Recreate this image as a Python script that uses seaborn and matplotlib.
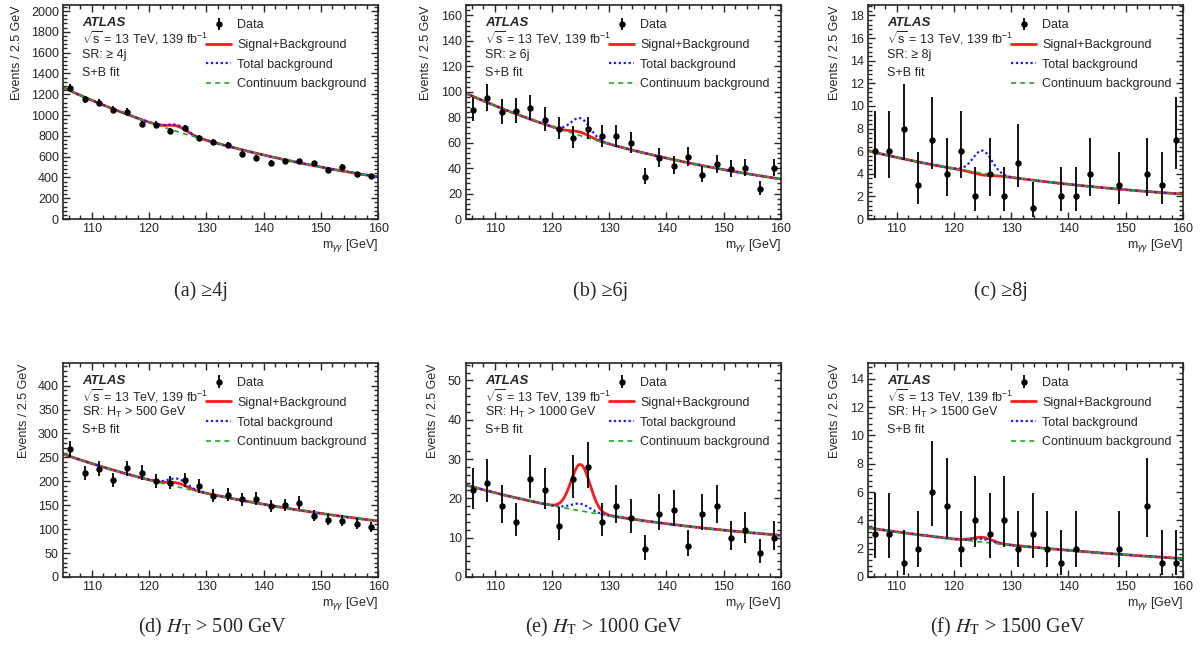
import math
import numpy as np
import pandas as pd
import matplotlib
matplotlib.use("Agg")
import matplotlib.pyplot as plt
from matplotlib.ticker import MultipleLocator, AutoMinorLocator
import seaborn as sns

# ==========================================
# DATA
# ==========================================
mass_bins = [106.25, 108.75, 111.25, 113.75, 116.25, 118.75, 121.25, 123.75,
             126.25, 128.75, 131.25, 133.75, 136.25, 138.75, 141.25, 143.75,
             146.25, 148.75, 151.25, 153.75, 156.25, 158.75]

nan = np.nan
counts_4j = [1264, 1152, 1117, 1053, 1034, 912, 909, 845, 877, 781, 742,
             717, 624, 589, 544, 557, 554, 538, 474, 502, 432, 413]
counts_6j = [86, 95, 84, 85, 87, 78, 71, 64, 71, 65, 65,
             60, 33, 48, 42, 49, 35, 43, 39, 40, 24, 40]
counts_8j = [6, 6, 8, 3, 7, 4, 6, 2, 4, 2, 5,
             1, nan, 2, 2, 4, nan, 3, nan, 4, 3, 7]
counts_ht500 = [267, 217, 226, 203, 227, 218, 201, 197, 202, 190, 169,
                172, 162, 164, 148, 150, 155, 128, 120, 118, 111, 104]
counts_ht1000 = [22, 24, 18, 14, 25, 22, 13, 25, 28, 14, 18,
                 15, 7, 16, 17, 8, 16, 18, 10, 12, 6, 10]
counts_ht1500 = [3, 3, 1, 2, 6, 5, 2, 4, 3, 4, 2,
                 3, 2, 1, 2, nan, nan, 2, nan, 5, 1, 1]

# continuum fit read at m = 105, 130, 160 GeV
cont_nodes = [105, 130, 160]
cont_4j = [1265, 758, 406]
cont_6j = [98.9, 59.0, 31.5]
cont_8j = [6.05, 3.69, 2.21]
cont_ht500 = [257, 175, 117]
cont_ht1000 = [23.4, 15.6, 10.6]
cont_ht1500 = [3.47, 2.25, 1.30]

# heights at 125 GeV of the SM Higgs (total bkg - continuum) and fitted signal
higgs_peak = [63, 13.8, 2.0, 17, 1.8, 0.22]
signal_peak = [-10, -11, -2.15, -9, 10, 0.12]

sr_labels = ["SR: ≥ 4j", "SR: ≥ 6j", "SR: ≥ 8j",
             r"SR: H$_\mathrm{T}$ > 500 GeV", r"SR: H$_\mathrm{T}$ > 1000 GeV",
             r"SR: H$_\mathrm{T}$ > 1500 GeV"]
captions = ["(a) ≥4j", "(b) ≥6j", "(c) ≥8j",
            r"(d) $H_\mathrm{T}$ > 500 GeV", r"(e) $H_\mathrm{T}$ > 1000 GeV",
            r"(f) $H_\mathrm{T}$ > 1500 GeV"]
y_tops = [2055, 168, 18.9, 447, 54.4, 15.1]
y_steps = [200, 20, 2, 50, 10, 2]

all_counts = [counts_4j, counts_6j, counts_8j, counts_ht500, counts_ht1000, counts_ht1500]
all_cont = [cont_4j, cont_6j, cont_8j, cont_ht500, cont_ht1000, cont_ht1500]


def poisson_cdf(n, mu):
    k = np.arange(n + 1)
    logt = -mu + k * np.log(mu) - np.array([math.lgamma(i + 1) for i in k])
    m = logt.max()
    return float(np.exp(m) * np.exp(logt - m).sum())


def poisson_interval(n):
    # Garwood 68% interval, as used for the ATLAS data points
    alpha = 0.158655
    lo_a, hi_a = 1e-9, float(n)
    for _ in range(60):
        mid = 0.5 * (lo_a + hi_a)
        if poisson_cdf(n - 1, mid) > 1 - alpha:
            lo_a = mid
        else:
            hi_a = mid
    low = 0.5 * (lo_a + hi_a)
    lo_b, hi_b = float(n), n + 10 * math.sqrt(n) + 10
    for _ in range(60):
        mid = 0.5 * (lo_b + hi_b)
        if poisson_cdf(n, mid) > alpha:
            lo_b = mid
        else:
            hi_b = mid
    up = 0.5 * (lo_b + hi_b)
    return n - low, up - n


# ==========================================
# STYLE
# ==========================================
sns.set_theme(style="ticks")
plt.rcParams["font.family"] = ["Liberation Sans", "DejaVu Sans"]
plt.rcParams["mathtext.fontset"] = "custom"
plt.rcParams["mathtext.rm"] = "Liberation Sans"
plt.rcParams["mathtext.it"] = "Liberation Sans:italic"
plt.rcParams["mathtext.bf"] = "Liberation Sans:bold"
plt.rcParams["axes.linewidth"] = 1.2

fig = plt.figure(figsize=(12.01, 6.6), dpi=100)

lefts = [0.0525, 0.388, 0.7227]
bottoms = [0.668, 0.1258]
w, h = 0.2623, 0.324
caption_x = [201, 601, 1001, 212, 604, 1008]
caption_y = [1 - 291 / 660, 1 - 627 / 660]

grid = np.linspace(105, 160, 600)
sigma = 1.65
fs = 9

for i in range(6):
    row, col = divmod(i, 3)
    ax = fig.add_axes([lefts[col], bottoms[row], w, h])

    # fit curves: log-quadratic continuum + gaussian peaks at 125 GeV
    coef = np.polyfit(cont_nodes, np.log(all_cont[i]), 2)
    cont = np.exp(np.polyval(coef, grid))
    gaus = np.exp(-0.5 * ((grid - 125.0) / sigma) ** 2)
    total = cont + higgs_peak[i] * gaus
    sb = total + signal_peak[i] * gaus
    curves = pd.DataFrame({"m": grid, "cont": cont, "total": total, "sb": sb})

    sns.lineplot(data=curves, x="m", y="sb", color="#ff1a1a", linewidth=2.0,
                 estimator=None, ax=ax)
    sns.lineplot(data=curves, x="m", y="total", color="#1a1aff", linewidth=1.6,
                 linestyle=(0, (1, 1.2)), estimator=None, ax=ax)
    sns.lineplot(data=curves, x="m", y="cont", color="#22aa22", linewidth=1.2,
                 linestyle=(0, (3, 2.5)), estimator=None, ax=ax)

    # data points with Poisson errors
    cnt = np.array(all_counts[i], dtype=float)
    ok = ~np.isnan(cnt) & (cnt > 0)
    xs = np.array(mass_bins)[ok]
    ys = cnt[ok]
    errs = np.array([poisson_interval(int(n)) for n in ys]).T
    data_h = ax.errorbar(xs, ys, yerr=errs, fmt="o", color="black", ms=3.6,
                         elinewidth=1.3, capsize=0, zorder=5)

    ax.set_xlim(105, 160)
    ax.set_ylim(0, y_tops[i])
    ax.xaxis.set_major_locator(MultipleLocator(10))
    ax.xaxis.set_minor_locator(AutoMinorLocator(5))
    ax.yaxis.set_major_locator(MultipleLocator(y_steps[i]))
    ax.yaxis.set_minor_locator(AutoMinorLocator(5))
    ax.tick_params(which="both", direction="in", top=True, right=True,
                   labelsize=fs, pad=3, width=1.0)
    ax.tick_params(which="major", length=5)
    ax.tick_params(which="minor", length=2.6)
    ax.set_xticks([110, 120, 130, 140, 150, 160])

    ax.set_ylabel("Events / 2.5 GeV", loc="top", fontsize=fs, labelpad=6)
    ax.set_xlabel(r"m$_{\gamma\gamma}$ [GeV]", loc="right", fontsize=fs, labelpad=1)

    # annotation block
    ax.text(0.06, 0.918, "ATLAS", transform=ax.transAxes, fontsize=9.5,
            fontweight="bold", fontstyle="italic", va="center")
    ax.text(0.06, 0.848, r"$\sqrt{\mathrm{s}}$ = 13 TeV, 139 fb$^{-1}$",
            transform=ax.transAxes, fontsize=fs, va="center")
    ax.text(0.06, 0.768, sr_labels[i], transform=ax.transAxes, fontsize=fs,
            va="center")
    ax.text(0.06, 0.685, "S+B fit", transform=ax.transAxes, fontsize=fs,
            va="center")

    handles = [data_h,
               plt.Line2D([], [], color="#ff1a1a", lw=2.0),
               plt.Line2D([], [], color="#1a1aff", lw=1.6, ls=(0, (1, 1.2))),
               plt.Line2D([], [], color="#22aa22", lw=1.2, ls=(0, (3, 2.5)))]
    labels = ["Data", "Signal+Background", "Total background", "Continuum background"]
    ax.legend(handles, labels, loc="upper left", bbox_to_anchor=(0.455, 0.935),
              frameon=False, fontsize=fs, handlelength=2.0, handletextpad=0.45,
              labelspacing=0.62, borderpad=0, borderaxespad=0)

    # sub-figure caption
    fig.text(caption_x[i] / 1201, caption_y[row], captions[i], ha="center",
             va="center", fontsize=14.5, family="Liberation Serif",
             math_fontfamily="stix")

fig.savefig("out.png", dpi=100)
